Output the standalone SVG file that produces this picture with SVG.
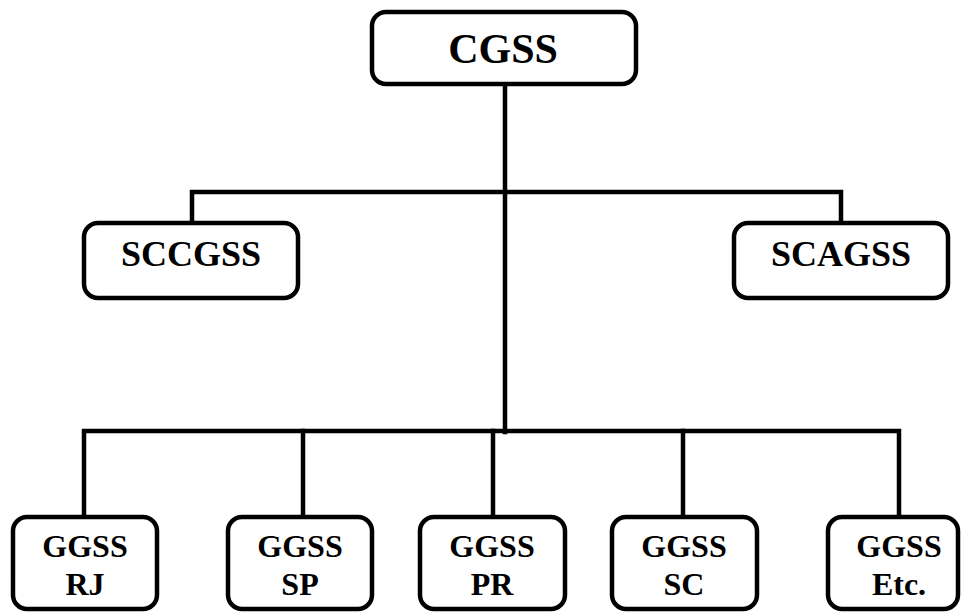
<svg xmlns="http://www.w3.org/2000/svg" width="962" height="612" viewBox="0 0 962 612">
<style>
.box{fill:#fff;stroke:#000;stroke-width:4.5}
.ln{fill:none;stroke:#000;stroke-width:4.5;stroke-linecap:square}
text{font-family:"Liberation Serif","Times New Roman",serif;font-weight:bold;fill:#000;text-anchor:middle}
.t1{font-size:42px}
.t2{font-size:36px}
.t3{font-size:32px}
</style>
<rect width="962" height="612" fill="#fff"/>
<g id="connectors">
<path class="ln" d="M505 84 V432"/>
<path class="ln" d="M192 222 V192 H841 V222"/>
<path class="ln" d="M84 517 V431 H899 V517"/>
<path class="ln" d="M303 431 V517"/>
<path class="ln" d="M493 431 V517"/>
<path class="ln" d="M683 431 V517"/>
</g>
<g id="cgss">
<rect class="box" x="372" y="12" width="264" height="72" rx="14"/>
<text class="t1" x="503" y="63">CGSS</text>
</g>
<g id="sccgss">
<rect class="box" x="84" y="223" width="214" height="75" rx="14"/>
<text class="t2" x="191" y="266">SCCGSS</text>
</g>
<g id="scagss">
<rect class="box" x="734" y="223" width="214" height="75" rx="14"/>
<text class="t2" x="841" y="266">SCAGSS</text>
</g>
<g id="ggss-rj">
<rect class="box" x="13" y="517" width="144" height="92" rx="14"/>
<text class="t3" x="85" y="557">GGSS</text>
<text class="t3" x="85" y="595">RJ</text>
</g>
<g id="ggss-sp">
<rect class="box" x="228" y="517" width="144" height="92" rx="14"/>
<text class="t3" x="300" y="557">GGSS</text>
<text class="t3" x="300" y="595">SP</text>
</g>
<g id="ggss-pr">
<rect class="box" x="420" y="517" width="145" height="92" rx="14"/>
<text class="t3" x="492" y="557">GGSS</text>
<text class="t3" x="492" y="595">PR</text>
</g>
<g id="ggss-sc">
<rect class="box" x="612" y="517" width="145" height="92" rx="14"/>
<text class="t3" x="684" y="557">GGSS</text>
<text class="t3" x="684" y="595">SC</text>
</g>
<g id="ggss-etc">
<rect class="box" x="828" y="517" width="130" height="92" rx="14"/>
<text class="t3" x="899" y="557">GGSS</text>
<text class="t3" x="899" y="595">Etc.</text>
</g>
</svg>
